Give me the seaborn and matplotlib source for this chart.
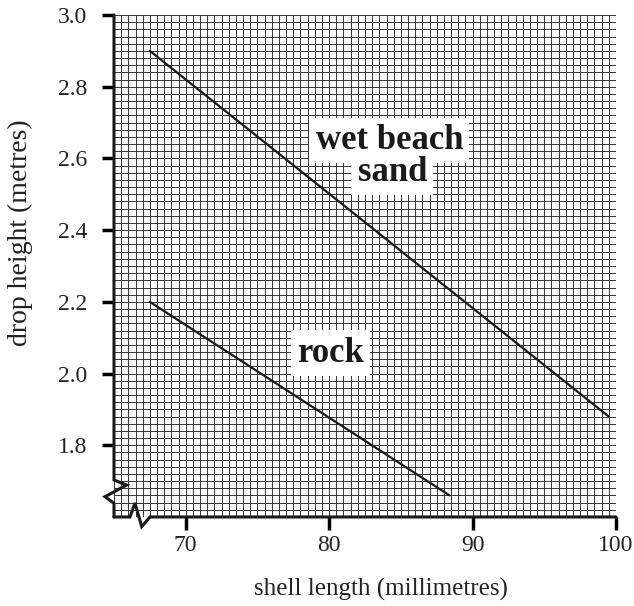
import numpy as np
import pandas as pd
import seaborn as sns
import matplotlib.pyplot as plt
from matplotlib.ticker import MultipleLocator

# values
surfaces = ["wet beach sand", "rock"]
shell_length_wet = [67.5, 99.5]
drop_height_wet = [2.90, 1.88]
shell_length_rock = [67.5, 88.4]
drop_height_rock = [2.20, 1.66]

x_ticks = [70, 80, 90, 100]
y_ticks = [1.8, 2.0, 2.2, 2.4, 2.6, 2.8, 3.0]

df = pd.concat([
    pd.DataFrame({"shell": shell_length_wet, "drop": drop_height_wet, "surface": surfaces[0]}),
    pd.DataFrame({"shell": shell_length_rock, "drop": drop_height_rock, "surface": surfaces[1]}),
])

sns.set_style("ticks")
plt.rcParams['font.family'] = ['Liberation Serif', 'DejaVu Serif']

fig = plt.figure(figsize=(6.34, 6.06), dpi=100)
ax = fig.add_axes([0.1798, 0.1469, 0.7918, 0.8283])

sns.lineplot(data=df, x="shell", y="drop", hue="surface", units="surface",
             estimator=None, palette=["#1a1a1a", "#1a1a1a"], linewidth=1.6,
             legend=False, ax=ax, zorder=3)

ax.set_xlim(65, 100)
ax.set_ylim(1.6, 3.0)
ax.set_xticks(x_ticks)
ax.set_yticks(y_ticks)
ax.set_yticklabels([f"{v:.1f}" for v in y_ticks])
ax.xaxis.set_minor_locator(MultipleLocator(0.5))
ax.yaxis.set_minor_locator(MultipleLocator(0.02))
ax.grid(which="both", color="#333333", linewidth=0.7)

ax.tick_params(axis="both", which="major", direction="out", length=9, width=2.5,
               color="black", labelsize=17, labelcolor="#222222",
               bottom=True, left=True, top=False, right=False)
ax.tick_params(axis="y", which="major", pad=10)
ax.tick_params(axis="x", which="major", pad=4)
ax.tick_params(which="minor", length=0)
for s in ax.spines.values():
    s.set_visible(False)

ax.set_xlabel("shell length (millimetres)", fontsize=18, color="#222222")
ax.set_ylabel("drop height (metres)", fontsize=20, color="#222222")
ax.xaxis.set_label_coords(0.532, -0.122)
ax.yaxis.set_label_coords(-0.161, 0.566)

# axes with break marks
kw = dict(transform=ax.transAxes, color="#1a1a1a", linewidth=2.2,
          clip_on=False, zorder=5, solid_joinstyle="miter")
ax.plot([0, 0, 0.0253, -0.018, 0, 0], [1, 0.0737, 0.0637, 0.0404, 0.0273, 0], **kw)
ax.plot([0, 0.0319, 0.0418, 0.0552, 0.0717, 1], [0, 0, 0.0279, -0.0193, 0, 0], **kw)

box = dict(facecolor="white", edgecolor="none", boxstyle="square,pad=0.18")
txt = dict(fontsize=25, fontweight="bold", color="#1a1a1a", ha="center",
           va="center", bbox=box, zorder=4)
ax.text(84.2, 2.650, "wet beach", **txt)
ax.text(84.4, 2.561, "sand", **txt)
ax.text(80.1, 2.057, "rock", **txt)

fig.savefig("out.png", dpi=100)
